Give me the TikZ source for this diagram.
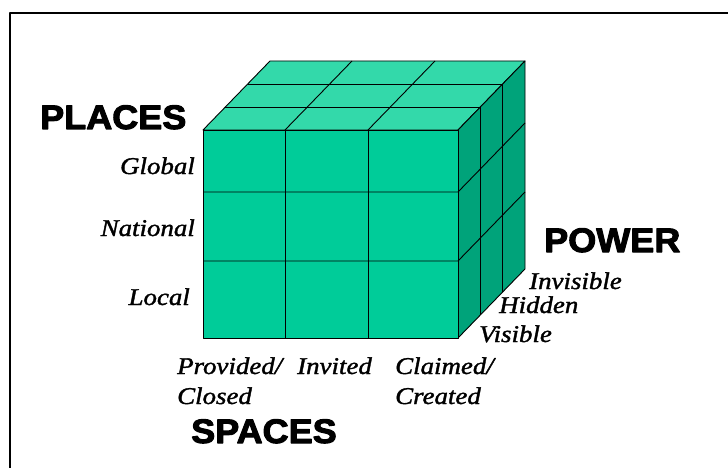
\documentclass[tikz,border=0pt]{standalone}
\usepackage{fontspec}
\setmainfont{Liberation Serif}
\newfontfamily\labfont[FakeStretch=1.12,FakeBold=1.5]{Liberation Serif Italic}
\newfontfamily\headfont[FakeStretch=1.06,FakeBold=3]{Liberation Sans Bold}
\usetikzlibrary{calc}
\definecolor{frontgreen}{RGB}{0,204,153}
\definecolor{topgreen}{RGB}{51,217,170}
\definecolor{sidegreen}{RGB}{0,163,122}
\tikzset{lab/.style={font=\labfont\fontsize{24}{24}\selectfont,inner sep=0pt}}
\tikzset{hd/.style={font=\headfont\fontsize{34}{34}\selectfont,inner sep=0pt}}
\tikzset{cell/.style={draw=black,line width=0.9pt}}

\begin{document}
\begin{tikzpicture}[x=1pt,y=-1pt,line join=round]
  \useasboundingbox (0,0) rectangle (728,468);
  \draw[line width=2pt] (10,468) -- (10,13) -- (728,13);
  % cube
  \filldraw[fill=topgreen,cell] (203,130)--(458,130)--(525,61)--(270,61)--cycle;
  \filldraw[fill=sidegreen,cell] (458,130)--(525,61)--(525,269)--(458,338)--cycle;
  \filldraw[fill=frontgreen,cell] (203,130) rectangle (458,338);
  \foreach \x in {285,368} {
    \draw[cell] (\x,130)--(\x,338);
    \draw[cell] (\x,130)--++(67,-69);
  }
  \foreach \y in {192,261} {
    \draw[cell] (203,\y)--(458,\y)--++(67,-69);
  }
  \foreach \k in {1,2} {
    \draw[cell] (203+22.33*\k,130-23*\k)--++(255,0);
    \draw[cell] (458+22.33*\k,130-23*\k)--++(0,208);
  }
  % labels
  \node[hd,anchor=base west] (places) at (40,129) {PLACES};
  \node[lab,anchor=base east] (global) at (195,174) {Global};
  \node[lab,anchor=base east] (national) at (195,236) {National};
  \node[lab,anchor=base east] (local) at (190,305) {Local};
  \node[lab,anchor=base west] (provided) at (177,374) {Provided/};
  \node[lab,anchor=base west] (closed) at (177,404) {Closed};
  \node[lab,anchor=base west] (invited) at (297,374) {Invited};
  \node[lab,anchor=base west] (claimed) at (395,374) {Claimed/};
  \node[lab,anchor=base west] (created) at (395,404) {Created};
  \node[hd,anchor=base west] (spaces) at (191,443) {SPACES};
  \node[hd,anchor=base west] (power) at (544,252) {POWER};
  \node[lab,anchor=base west] (invisible) at (529,289) {Invisible};
  \node[lab,anchor=base west] (hidden) at (499,313) {Hidden};
  \node[lab,anchor=base west] (visible) at (479,342) {Visible};
\end{tikzpicture}
\end{document}
